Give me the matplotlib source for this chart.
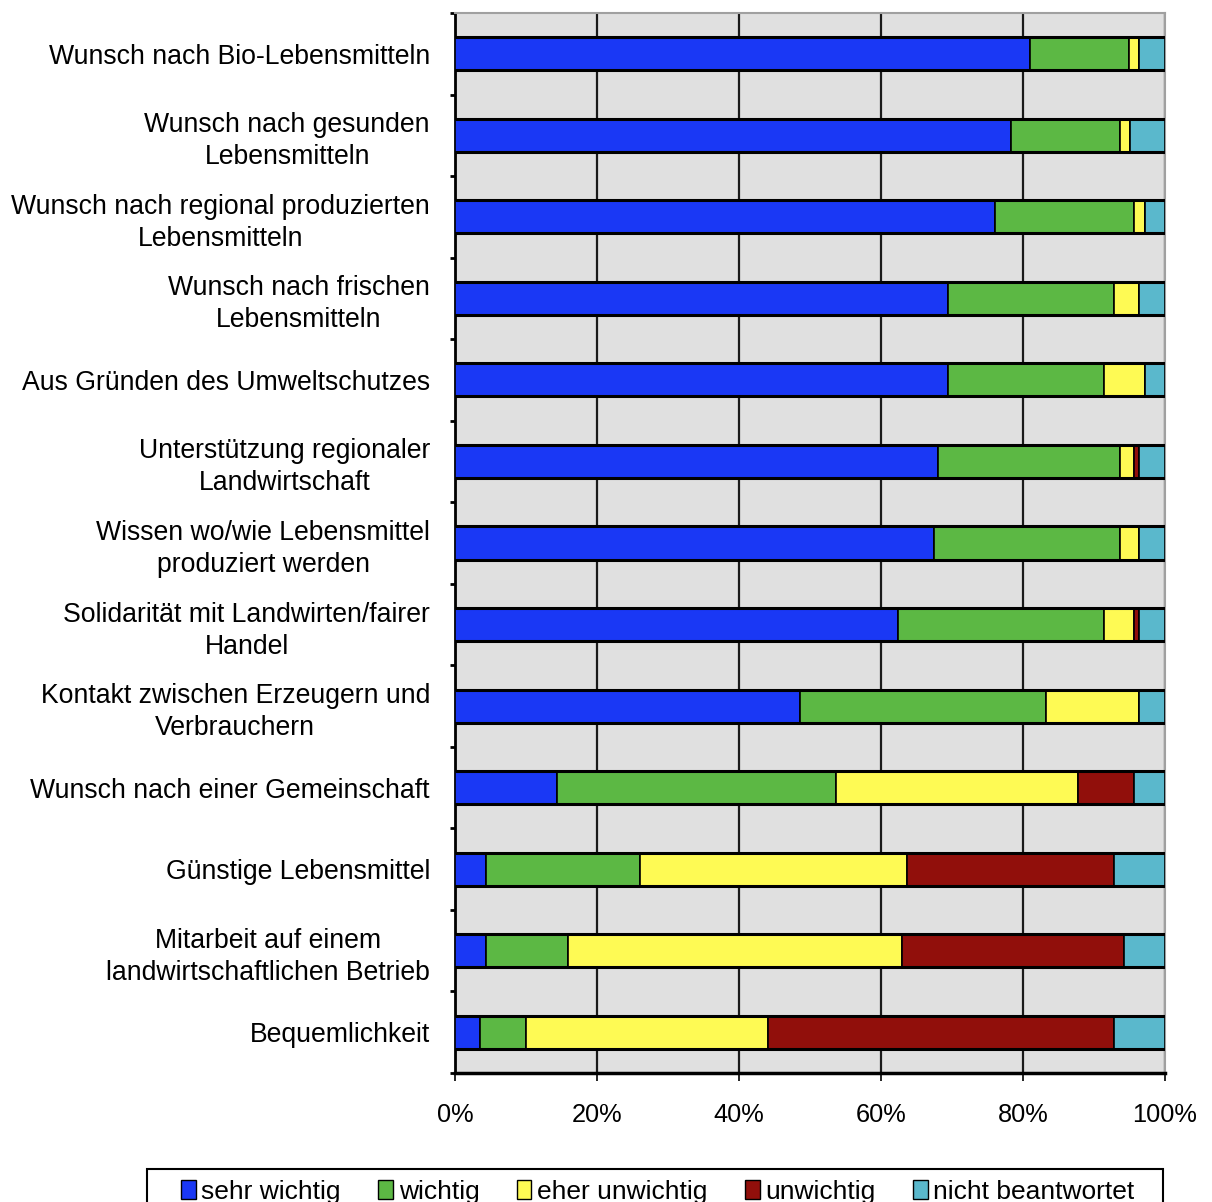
import matplotlib
matplotlib.use("Agg")
import matplotlib.pyplot as plt
import numpy as np
from matplotlib.patches import Patch, Rectangle

plt.rcParams['font.family'] = ['Liberation Sans', 'DejaVu Sans']

categories = [
    "Wunsch nach Bio-Lebensmitteln",
    "Wunsch nach gesunden\nLebensmitteln",
    "Wunsch nach regional produzierten\nLebensmitteln",
    "Wunsch nach frischen\nLebensmitteln",
    "Aus Gründen des Umweltschutzes",
    "Unterstützung regionaler\nLandwirtschaft",
    "Wissen wo/wie Lebensmittel\nproduziert werden",
    "Solidarität mit Landwirten/fairer\nHandel",
    "Kontakt zwischen Erzeugern und\nVerbrauchern",
    "Wunsch nach einer Gemeinschaft",
    "Günstige Lebensmittel",
    "Mitarbeit auf einem\nlandwirtschaftlichen Betrieb",
    "Bequemlichkeit",
]

sehr_wichtig      = [81.0, 78.3, 76.0, 69.5, 69.5, 68.0, 67.4, 62.4, 48.6, 14.4, 4.3, 4.3, 3.5]
wichtig           = [13.9, 15.3, 19.7, 23.3, 21.9, 25.6, 26.2, 29.0, 34.7, 39.2, 21.8, 11.6, 6.5]
eher_unwichtig    = [1.5, 1.4, 1.5, 3.6, 5.8, 2.0, 2.8, 4.2, 13.1, 34.1, 37.5, 47.0, 34.1]
unwichtig         = [0.0, 0.0, 0.0, 0.0, 0.0, 0.8, 0.0, 0.8, 0.0, 8.0, 29.2, 31.3, 48.7]
nicht_beantwortet = [3.6, 5.0, 2.8, 3.6, 2.8, 3.6, 3.6, 3.6, 3.6, 4.3, 7.2, 5.8, 7.2]

series_labels = ["sehr wichtig", "wichtig", "eher unwichtig", "unwichtig", "nicht beantwortet"]
series_colors = ["#1a38f5", "#5cb844", "#fefa54", "#910f0b", "#5ab8cc"]

x_ticks = [0, 20, 40, 60, 80, 100]
x_tick_labels = ["0%", "20%", "40%", "60%", "80%", "100%"]

W, H = 1212, 1202
fig = plt.figure(figsize=(W / 100, H / 100), dpi=100)
ax = fig.add_axes([455 / W, 1 - 1073 / H, (1165 - 455) / W, (1073 - 13) / H])
ax.set_facecolor("#e0e0e0")

y = np.arange(len(categories))
series = [sehr_wichtig, wichtig, eher_unwichtig, unwichtig, nicht_beantwortet]
left = np.zeros(len(categories))
for vals, col in zip(series, series_colors):
    vals = np.array(vals)
    ax.barh(y, vals, left=left, height=0.405, color=col, edgecolor="black",
            linewidth=1.2, zorder=3)
    left += vals

# heavier outline along the top and bottom of each bar
for yi in y:
    ax.hlines([yi - 0.2025, yi + 0.2025], 0, 100, colors="black", linewidth=2.2, zorder=4)

ax.set_xlim(0, 100)
ax.set_ylim(len(categories) - 0.5, -0.5)

ax.set_xticks(x_ticks)
ax.set_xticklabels(x_tick_labels, fontsize=18.3)
ax.xaxis.grid(True, color="#1a1a1a", linewidth=1.6, zorder=1)
ax.set_axisbelow(True)
ax.tick_params(axis="x", direction="out", length=5.8, width=1.2, pad=16)

# y ticks sit between categories; labels on the category centres
ax.set_yticks(np.arange(-0.5, len(categories), 1.0))
ax.set_yticklabels([])
ax.set_yticks(y, minor=True)
ax.set_yticklabels(categories, minor=True, fontsize=19.2, multialignment="center",
                   linespacing=1.3)
ax.tick_params(axis="y", which="major", direction="out", length=3.6, width=2)
ax.tick_params(axis="y", which="minor", length=0, pad=18)

for side in ("top", "right"):
    ax.spines[side].set_color("#a0a0a0")
    ax.spines[side].set_linewidth(1.5)
ax.spines["left"].set_color("black")
ax.spines["left"].set_linewidth(2)
ax.spines["bottom"].set_color("black")
ax.spines["bottom"].set_linewidth(2.5)

# legend box
fig.patches.append(Rectangle((147 / W, -0.05), (1163 - 147) / W, 0.05 + 1 - 1169 / H,
                             transform=fig.transFigure, facecolor="white",
                             edgecolor="black", linewidth=1.5, zorder=5))
handles = [Patch(facecolor=c, edgecolor="black", linewidth=1.0) for c in series_colors]
leg = fig.legend(handles, series_labels, loc="upper left", ncol=5,
                 bbox_to_anchor=(181 / W, 1 - 1180 / H),
                 fontsize=19, frameon=False,
                 handlelength=0.55, handleheight=0.75, handletextpad=0.22,
                 columnspacing=1.42, borderpad=0, borderaxespad=0)
leg.set_zorder(6)

fig.savefig("out.png", dpi=100)
